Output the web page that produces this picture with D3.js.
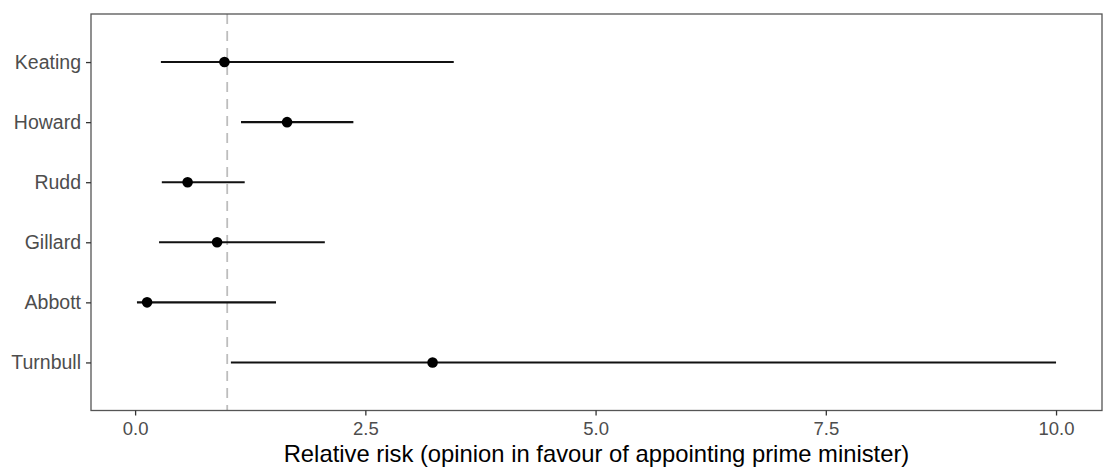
<!DOCTYPE html>
<html>
<head>
<meta charset="utf-8">
<script src="https://cdn.jsdelivr.net/npm/d3@7"></script>
<style>
  html, body { margin: 0; padding: 0; background: #fff; }
  svg { display: block; font-family: "Liberation Sans", Arial, sans-serif; }
</style>
</head>
<body>
<svg id="chart" width="1105" height="469"></svg>
<script>
// Prime ministers, top to bottom
const leaders = ["Keating", "Howard", "Rudd", "Gillard", "Abbott", "Turnbull"];
// Relative risk point estimates and confidence bounds
const estimate = [0.97, 1.65, 0.57, 0.89, 0.13, 3.23];
const lowerCI  = [0.28, 1.15, 0.29, 0.26, 0.02, 1.04];
const upperCI  = [3.46, 2.37, 1.19, 2.06, 1.53, 10.0];
// Axis ticks and reference line
const xTicks = [0, 2.5, 5, 7.5, 10];
const referenceRisk = 1;
const xTitle = "Relative risk (opinion in favour of appointing prime minister)";

const rows = leaders.map((name, i) => ({
  name, est: estimate[i], lo: lowerCI[i], hi: upperCI[i]
}));

const svg = d3.select("#chart");
const panel = { left: 91, right: 1102, top: 14, bottom: 410.5 };

// Continuous x with 5% expansion on the data range
const lo = d3.min(lowerCI), hi = d3.max(upperCI);
const pad = (hi - lo) * 0.05;
const x = d3.scaleLinear()
  .domain([lo - pad, hi + pad])
  .range([panel.left, panel.right]);

const y = d3.scalePoint()
  .domain(leaders)
  .range([panel.top, panel.bottom])
  .padding(0.8);

// Panel background
svg.append("rect")
  .attr("x", panel.left).attr("y", panel.top)
  .attr("width", panel.right - panel.left)
  .attr("height", panel.bottom - panel.top)
  .attr("fill", "#fff");

// Dashed reference at relative risk = 1
svg.append("line")
  .attr("x1", x(referenceRisk)).attr("x2", x(referenceRisk))
  .attr("y1", panel.top).attr("y2", panel.bottom)
  .attr("stroke", "#bdbdbd")
  .attr("stroke-width", 1.8)
  .attr("stroke-dasharray", "10,7");

// Confidence intervals
svg.append("g").selectAll("line")
  .data(rows).join("line")
  .attr("x1", d => x(d.lo)).attr("x2", d => x(d.hi))
  .attr("y1", d => y(d.name)).attr("y2", d => y(d.name))
  .attr("stroke", "#111")
  .attr("stroke-width", 2.1);

// Point estimates
svg.append("g").selectAll("circle")
  .data(rows).join("circle")
  .attr("cx", d => x(d.est)).attr("cy", d => y(d.name))
  .attr("r", 5.3)
  .attr("fill", "#000");

// Panel border
svg.append("rect")
  .attr("x", panel.left).attr("y", panel.top)
  .attr("width", panel.right - panel.left)
  .attr("height", panel.bottom - panel.top)
  .attr("fill", "none")
  .attr("stroke", "#555")
  .attr("stroke-width", 1.3);

// X axis
const xAxis = svg.append("g")
  .attr("transform", `translate(0,${panel.bottom})`)
  .call(d3.axisBottom(x).tickValues(xTicks).tickFormat(d3.format(".1f")).tickSize(5).tickPadding(6));
xAxis.select(".domain").remove();
xAxis.selectAll(".tick line").attr("stroke", "#333").attr("stroke-width", 1.3);
xAxis.selectAll(".tick text")
  .attr("fill", "#4d4d4d")
  .style("font-size", "18.5px")
  .style("font-family", "Liberation Sans, Arial, sans-serif");

// Y axis
const yAxis = svg.append("g")
  .attr("transform", `translate(${panel.left},0)`)
  .call(d3.axisLeft(y).tickSize(5).tickPadding(5));
yAxis.select(".domain").remove();
yAxis.selectAll(".tick line").attr("stroke", "#333").attr("stroke-width", 1.3);
yAxis.selectAll(".tick text")
  .attr("fill", "#4d4d4d")
  .style("font-size", "19.5px")
  .style("font-family", "Liberation Sans, Arial, sans-serif");

// Axis title
svg.append("text")
  .attr("x", (panel.left + panel.right) / 2)
  .attr("y", 462)
  .attr("text-anchor", "middle")
  .attr("fill", "#000")
  .style("font-size", "23.8px")
  .text(xTitle);
</script>
</body>
</html>
